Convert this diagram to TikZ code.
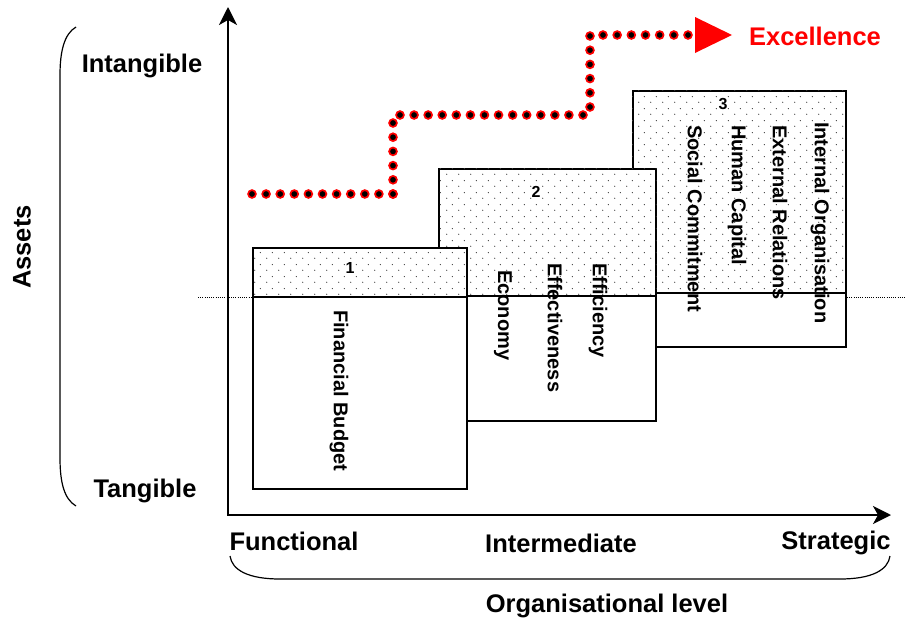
\documentclass[tikz,border=0pt]{standalone}
\usepackage{fontspec}
\setmainfont{Liberation Sans}
\usetikzlibrary{arrows.meta,patterns,calc}

% sparse staggered dot fill for the intangible part of each level
\pgfdeclarepatternformonly{sparsedots}{\pgfpointorigin}{\pgfpoint{12pt}{12pt}}{\pgfpoint{12pt}{12pt}}{%
  \pgfpathcircle{\pgfpoint{3pt}{3pt}}{0.7pt}%
  \pgfpathcircle{\pgfpoint{9pt}{9pt}}{0.7pt}%
  \pgfusepath{fill}}

\begin{document}
\begin{tikzpicture}[x=1pt,y=-1pt,
  lbl/.style={font=\fontsize{25.5}{28}\selectfont\bfseries, inner sep=0pt},
  boxlbl/.style={font=\fontsize{20}{22}\selectfont\bfseries, inner sep=0pt, rotate=-90, anchor=west},
  numlbl/.style={font=\fontsize{16}{18}\selectfont\bfseries, inner sep=0pt},
  levelbox/.style={draw=black, line width=1.6pt, fill=white, inner sep=0pt, anchor=north west},
  dotarea/.style={pattern=sparsedots, pattern color=black!75},
  sepline/.style={draw=black, line width=1.6pt},
  axis/.style={line width=2pt, line join=miter,
    {Stealth[length=18pt,width=18pt,inset=5pt]}-{Stealth[length=18pt,width=18pt,inset=5pt]}},
  brace/.style={line width=1.2pt},
  reddot/.style={fill=black, draw=red, line width=1.7pt}
]
\useasboundingbox (0,0) rectangle (905,621);

% axes
\coordinate (origin) at (228,515);
\coordinate (ytip) at (228,7);
\coordinate (xtip) at (891,515);

% tangible / intangible border
\coordinate (dl) at (198,297);
\coordinate (dr) at (905,297);
\draw[line width=1pt, dash pattern=on 1pt off 1.2pt] (dl) -- (dr);

% level 3
\node[levelbox, minimum width=213pt, minimum height=256pt] (b3) at (632,90) {};
\coordinate (s3) at (0,293);
\path[dotarea] (b3.north west) rectangle (b3.east |- s3);
\draw[sepline] (b3.west |- s3) -- (b3.east |- s3);
\node[numlbl] (n3) at (723,104) {3};
\node[boxlbl] (t31) at (695,125) {Social Commitment};
\node[boxlbl] (t32) at (737,125) {Human Capital};
\node[boxlbl] (t33) at (780,125) {External Relations};
\node[boxlbl] (t34) at (820,122) {Internal Organisation};

% level 2
\node[levelbox, minimum width=217pt, minimum height=252pt] (b2) at (438,168) {};
\coordinate (s2) at (0,296);
\path[dotarea] (b2.north west) rectangle (b2.east |- s2);
\draw[sepline] (b2.west |- s2) -- (b2.east |- s2);
\node[numlbl] (n2) at (536,192) {2};
\node[boxlbl] (t21) at (503,270) {Economy};
\node[boxlbl] (t22) at (555,263) {Effectiveness};
\node[boxlbl] (t23) at (598,263) {Efficiency};

% level 1
\node[levelbox, minimum width=214pt, minimum height=241pt] (b1) at (252,247) {};
\coordinate (s1) at (0,297);
\path[dotarea] (b1.north west) rectangle (b1.east |- s1);
\draw[sepline] (b1.west |- s1) -- (b1.east |- s1);
\node[numlbl] (n1) at (350,268) {1};
\node[boxlbl] (t11) at (339,310) {Financial Budget};

% axes on top
\draw[axis] (ytip) -- (origin) -- (xtip);

% stepped dotted path to excellence
\coordinate (r0) at (252,194);
\coordinate (r1) at (393,194);
\coordinate (r2) at (393,123);
\coordinate (r3) at (400,115);
\coordinate (r4) at (583,115);
\coordinate (r5) at (590,107);
\coordinate (r6) at (590,36);
\coordinate (r7) at (603,35);
\coordinate (r8) at (688,35);
\foreach \a/\b/\n in {r0/r1/10, r1/r2/5, r3/r4/13, r5/r6/5, r7/r8/6}{
  \foreach \k in {0,...,\n}{
    \path[reddot] ($(\a)!\k/\n!(\b)$) circle (3.9pt);
  }
}
\coordinate (h1) at (695,17);
\coordinate (h2) at (732,35);
\coordinate (h3) at (695,53);
\fill[red] (h1) -- (h2) -- (h3) -- cycle;
\node[lbl, text=red] (exc) at (815,36) {Excellence};

% vertical scale
\node[lbl] (intang) at (142,66) {Intangible};
\node[lbl] (tang) at (145,491) {Tangible};
\node[lbl, rotate=90] (assets) at (22,247) {Assets};
\coordinate (bl1) at (76,27);
\coordinate (bl2) at (76,506);
\draw[brace] (bl1) .. controls (64,34) and (60,52) .. (60,75) -- (60,458) .. controls (60,482) and (64,499) .. (bl2);

% horizontal scale
\node[lbl] (func) at (294,541) {Functional};
\node[lbl] (inter) at (561,543) {Intermediate};
\node[lbl] (strat) at (836,543) {Strategic};
\node[lbl] (orglvl) at (607,606) {Organisational level};
\coordinate (bb1) at (230,556);
\coordinate (bb2) at (890,556);
\draw[brace] (bb1) .. controls (232,570) and (248,579) .. (280,579) -- (840,579) .. controls (872,579) and (888,570) .. (bb2);
\end{tikzpicture}
\end{document}
